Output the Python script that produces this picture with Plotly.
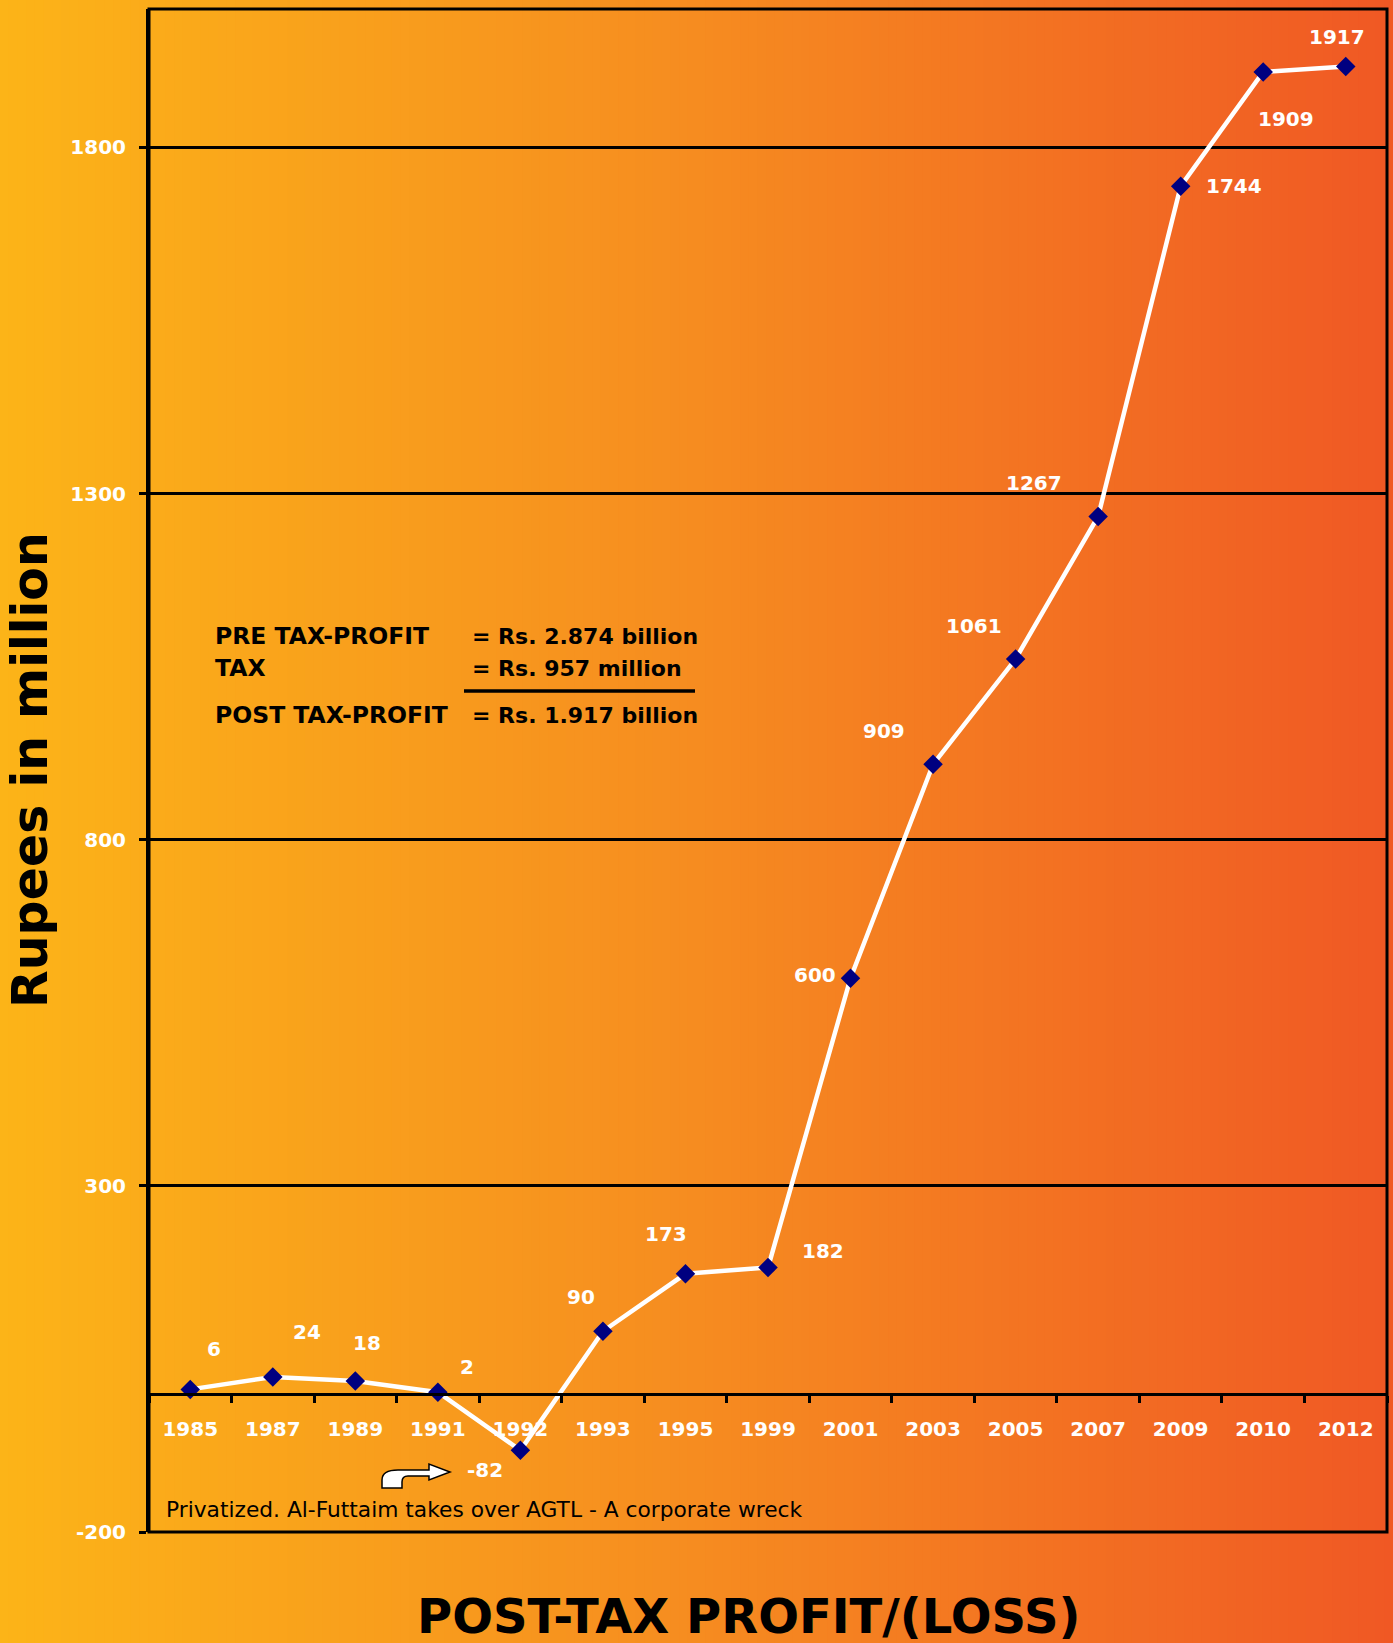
import plotly.graph_objects as go

# Post-tax profit / (loss), Rupees in million
years = ["1985", "1987", "1989", "1991", "1992", "1993", "1995", "1999",
         "2001", "2003", "2005", "2007", "2009", "2010", "2012"]
profit = [6, 24, 18, 2, -82, 90, 173, 182, 600, 909, 1061, 1267, 1744, 1909, 1917]

# value-label offsets (pixels) relative to each marker
label_dx = [24, 34, 12, 29, -35, -22, -19, 55, -36, -49, -42, -64, 53, 23, -9]
label_dy = [40, 45, 38, 25, -20, 34, 40, 17, 3, 33, 33, 33, 0, -47, 29]

y_ticks = [-200, 300, 800, 1300, 1800]
y_range = [-200, 2000]

summary_left = ["PRE TAX-PROFIT", "TAX", "POST TAX-PROFIT"]
summary_right = ["= Rs. 2.874 billion", "= Rs. 957 million", "= Rs. 1.917 billion"]

W, H = 1393, 1643
ML, MR, MT, MB = 149, 6, 9, 111
PW, PH = W - ML - MR, H - MT - MB


def px(x):
    return (x - ML) / PW


def py(y):
    return (H - MB - y) / PH


BOLD = dict(family="DejaVu Sans", weight="bold")

fig = go.Figure()
fig.add_trace(go.Scatter(
    x=years, y=profit, mode="lines+markers",
    line=dict(color="white", width=4.5),
    marker=dict(symbol="diamond", size=15, color="#000080", line=dict(width=0)),
    hoverinfo="x+y", showlegend=False,
))

# horizontal background gradient, yellow-orange to red-orange
stops = [(0.0, (252, 180, 24)), (0.5, (246, 140, 32)), (1.0, (240, 88, 36))]


def grad(t):
    for (t0, c0), (t1, c1) in zip(stops[:-1], stops[1:]):
        if t <= t1:
            f = (t - t0) / (t1 - t0)
            return "rgb(%d,%d,%d)" % tuple(round(a + (b - a) * f) for a, b in zip(c0, c1))
    return "rgb(%d,%d,%d)" % stops[-1][1]


shapes = []
n = 160
for i in range(n):
    x0 = W * i / n
    x1 = W * (i + 1) / n + 1
    shapes.append(dict(type="rect", xref="paper", yref="paper",
                       x0=px(x0), x1=px(x1), y0=py(H), y1=py(0),
                       fillcolor=grad((i + 0.5) / n), line=dict(width=0),
                       layer="below"))

# plot frame
shapes.append(dict(type="rect", xref="paper", yref="paper", x0=0, x1=1, y0=0, y1=1,
                   line=dict(color="black", width=3), layer="above"))

# rule under the tax line
shapes.append(dict(type="line", xref="paper", yref="paper",
                   x0=px(464), x1=px(695), y0=py(691), y1=py(691),
                   line=dict(color="black", width=3.5), layer="above"))

# curved pointer arrow next to the 1992 loss
arrow_pts = "M {} {} L {} {} Q {} {} {} {} L {} {} L {} {} L {} {} L {} {} L {} {} L {} {} Q {} {} {} {} L {} {} Z"
pts = [(382, 1488), (382, 1480), (382, 1470), (398, 1470), (429, 1470), (429, 1464),
       (450, 1472), (429, 1480), (429, 1476), (408, 1476), (402, 1476), (402, 1482),
       (402, 1488)]
flat = []
for a, b in pts:
    flat += [round(px(a), 5), round(py(b), 5)]
shapes.append(dict(type="path", xref="paper", yref="paper",
                   path=arrow_pts.format(*flat),
                   fillcolor="white", line=dict(color="black", width=1.5), layer="above"))

annotations = []
for i, (v, dx, dy) in enumerate(zip(profit, label_dx, label_dy)):
    annotations.append(dict(x=i, y=v, xref="x", yref="y", text=str(v),
                            showarrow=False, xshift=dx, yshift=dy,
                            xanchor="center", yanchor="middle",
                            font=dict(color="white", size=20, **BOLD)))

rows_y = [636, 668, 715]
for txt_l, txt_r, yy in zip(summary_left, summary_right, rows_y):
    annotations.append(dict(x=px(213), y=py(yy), xref="paper", yref="paper", text=txt_l,
                            showarrow=False, xanchor="left", yanchor="middle",
                            font=dict(color="black", size=23.5, **BOLD)))
    annotations.append(dict(x=px(470), y=py(yy), xref="paper", yref="paper", text=txt_r,
                            showarrow=False, xanchor="left", yanchor="middle",
                            font=dict(color="black", size=22, **BOLD)))

annotations.append(dict(x=px(164), y=py(1509), xref="paper", yref="paper",
                        text="Privatized. Al-Futtaim takes over AGTL - A corporate wreck",
                        showarrow=False, xanchor="left", yanchor="middle",
                        font=dict(color="black", size=21.75, family="DejaVu Sans")))

annotations.append(dict(x=px(30), y=py(770), xref="paper", yref="paper",
                        text="Rupees in million", textangle=-90, showarrow=False,
                        xanchor="center", yanchor="middle",
                        font=dict(color="black", size=49, **BOLD)))

annotations.append(dict(x=px(748), y=py(1616), xref="paper", yref="paper",
                        text="POST-TAX PROFIT/(LOSS)", showarrow=False,
                        xanchor="center", yanchor="middle",
                        font=dict(color="black", size=48, **BOLD)))

zero_pos = (0 - y_range[0]) / (y_range[1] - y_range[0])

fig.update_layout(
    width=W, height=H,
    margin=dict(l=ML, r=MR, t=MT, b=MB, pad=0),
    paper_bgcolor="rgba(0,0,0,0)", plot_bgcolor="rgba(0,0,0,0)",
    shapes=shapes, annotations=annotations,
    xaxis=dict(type="category", categoryorder="array", categoryarray=years,
               range=[-0.5, len(years) - 0.5], anchor="free", position=zero_pos,
               showline=True, linecolor="black", linewidth=3,
               ticks="outside", tickson="boundaries", ticklen=7, tickwidth=2.5,
               tickcolor="black", showgrid=False, ticklabelstandoff=16,
               tickfont=dict(color="white", size=20, **BOLD), fixedrange=True),
    yaxis=dict(range=y_range, tickvals=y_ticks, ticktext=[str(t) for t in y_ticks],
               showgrid=True, gridcolor="black",
               gridwidth=2.5, zeroline=False, showline=True, linecolor="black",
               linewidth=3, ticks="outside", ticklen=7, tickwidth=2.5, tickcolor="black",
               ticklabelstandoff=9, tickfont=dict(color="white", size=20, **BOLD),
               fixedrange=True),
)

fig.write_html("out.html")
